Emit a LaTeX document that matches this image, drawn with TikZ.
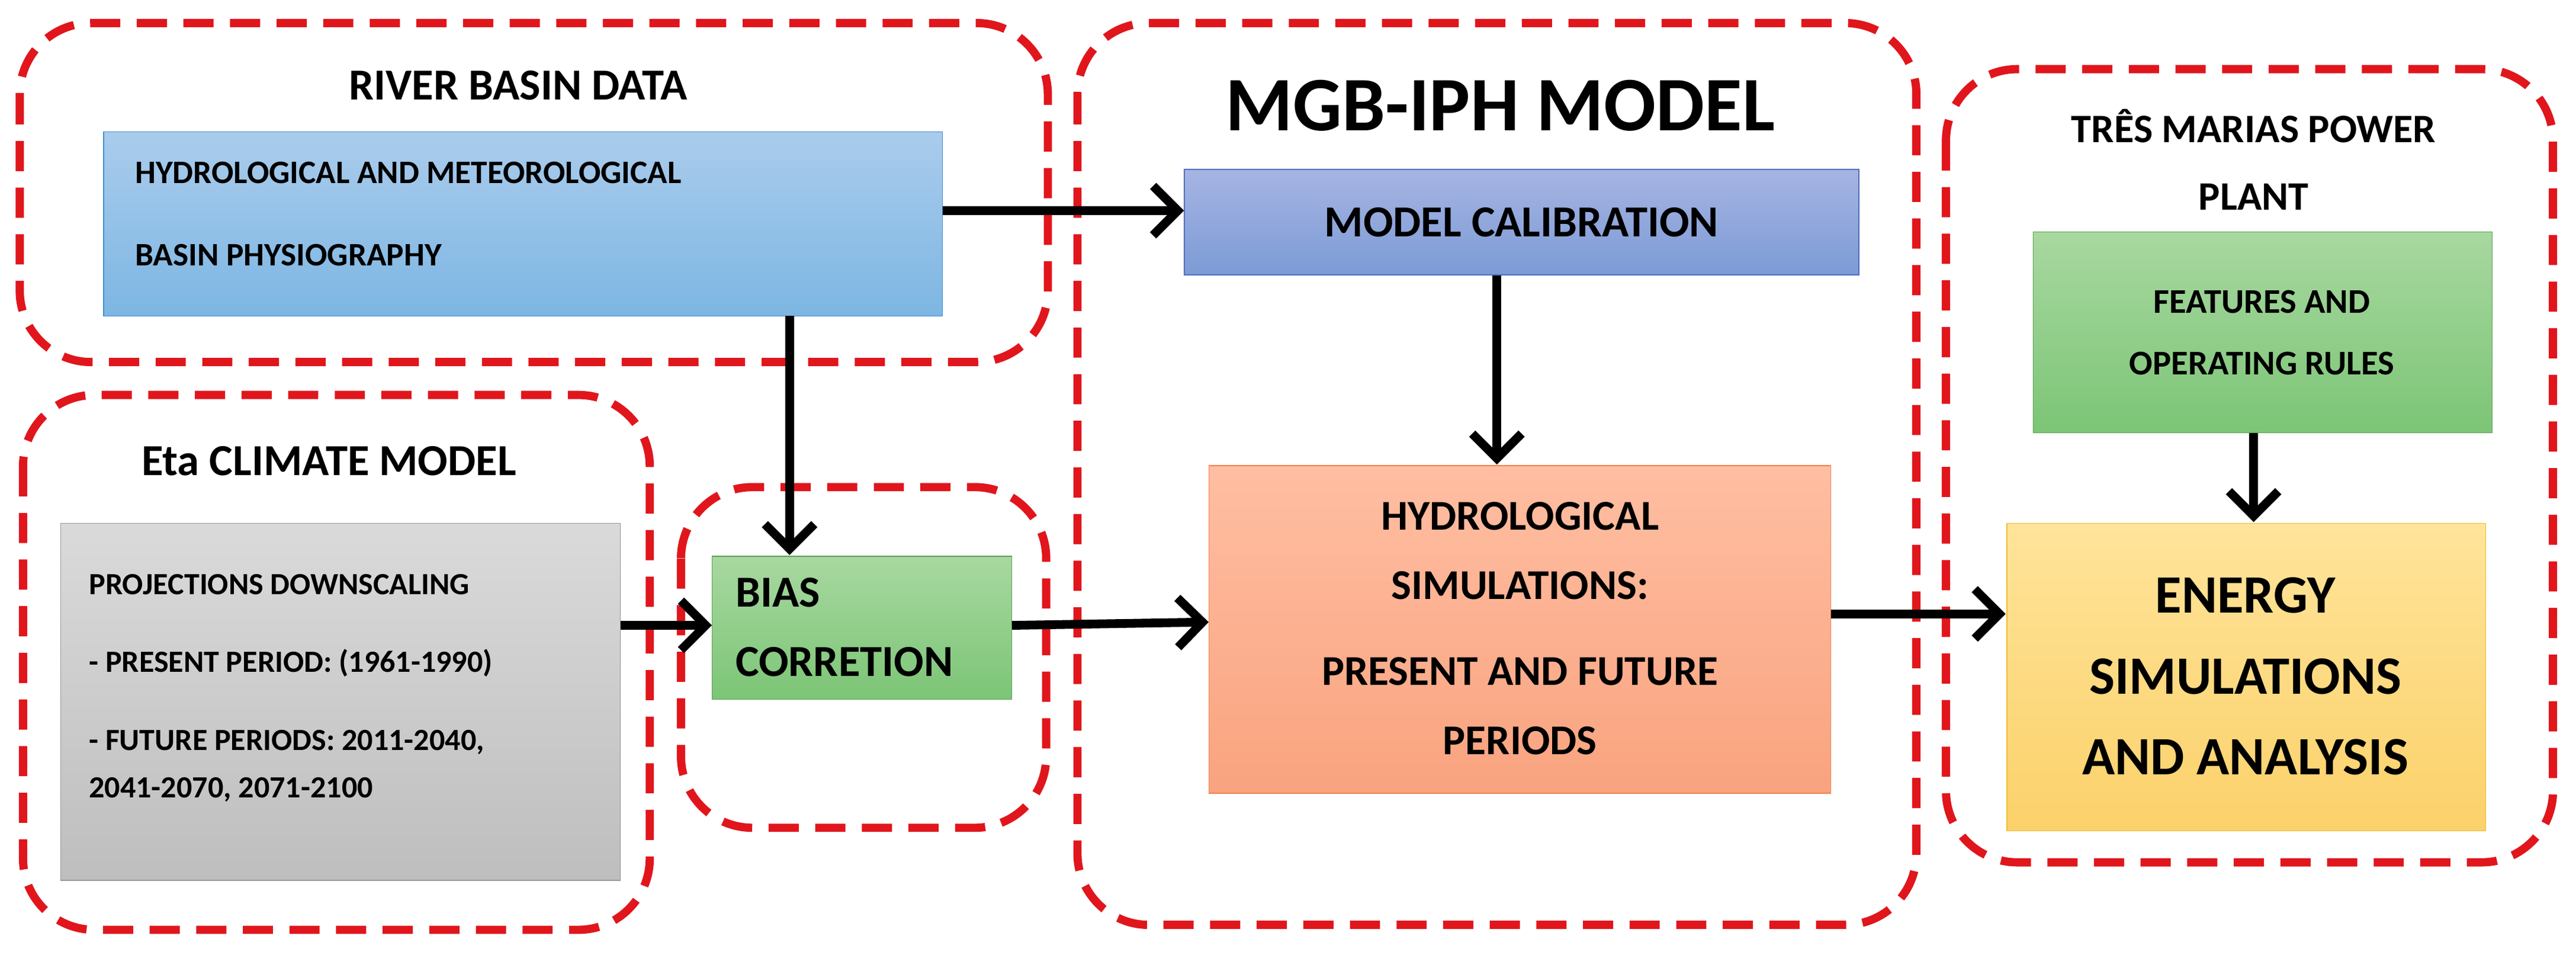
\documentclass[tikz,border=0pt]{standalone}
\usepackage{fontspec}
\setmainfont{Carlito}
\usetikzlibrary{arrows.meta}
\definecolor{dred}{HTML}{E0161C}
\definecolor{bt}{RGB}{170,204,236}\definecolor{bb}{RGB}{125,182,227}\definecolor{bd}{RGB}{60,140,210}
\definecolor{ct}{RGB}{166,180,226}\definecolor{cb}{RGB}{124,155,214}\definecolor{cd}{RGB}{80,110,190}
\definecolor{ot}{RGB}{255,190,162}\definecolor{ob}{RGB}{249,163,127}\definecolor{od}{RGB}{240,130,80}
\definecolor{gt}{RGB}{218,218,218}\definecolor{gb}{RGB}{190,190,190}\definecolor{gd}{RGB}{150,150,150}
\definecolor{nt}{RGB}{168,216,160}\definecolor{nb}{RGB}{124,197,118}\definecolor{nd}{RGB}{90,160,80}
\definecolor{yt}{RGB}{255,228,154}\definecolor{yb}{RGB}{251,209,106}\definecolor{yd}{RGB}{240,190,50}
\begin{document}
\begin{tikzpicture}[x=0.03cm,y=-0.03cm,
 grp/.style={draw=dred,line width=0.15cm,dash pattern=on 0.55cm off 0.3cm,rounded corners=1.3cm},
 arr/.style={line width=0.16cm,-{Straight Barb[length=0.45cm,width=0.9cm,line width=0.16cm]}},
 lbl/.style={font=\bfseries\fontsize{17}{20}\selectfont,anchor=west},
 ttl/.style={font=\bfseries\fontsize{23}{28}\selectfont,align=center}]
\useasboundingbox (0,0) rectangle (1566,580);
\fill[white] (0,0) rectangle (1566,580);
% groups
\draw[grp] (12,14) rectangle (637,220);
\draw[grp] (14,240) rectangle (395,565);
\draw[grp] (414,296) rectangle (636,503);
\draw[grp] (655,14) rectangle (1165,562);
\draw[grp] (1183,42) rectangle (1552,524);
% titles
\node[ttl] (t1) at (315,52) {RIVER BASIN DATA};
\node[ttl] (t2) at (200,280) {Eta CLIMATE MODEL};
\node[font=\bfseries\fontsize{40}{46}\selectfont] (t3) at (912,64) {MGB-IPH MODEL};
\node[font=\bfseries\fontsize{21}{35}\selectfont,align=center] (t4) at (1370,97) {TRÊS MARIAS POWER\\PLANT};
% boxes
\shade[top color=bt, bottom color=bb] (63,80) rectangle (573,192);
\draw[bd] (63,80) rectangle (573,192);
\node (bas) at (318,136) [minimum width=15.3cm,minimum height=3.36cm] {};
\node[lbl] (b1) at (78,105) {HYDROLOGICAL AND METEOROLOGICAL};
\node[lbl] (b2) at (78,155) {BASIN PHYSIOGRAPHY};

\shade[top color=ct, bottom color=cb] (720,103) rectangle (1130,167);
\draw[cd] (720,103) rectangle (1130,167);
\node[ttl] (cal) at (925,135) [minimum width=12.3cm,minimum height=1.92cm] {MODEL CALIBRATION};

\shade[top color=ot, bottom color=ob] (735,283) rectangle (1113,482);
\draw[od] (735,283) rectangle (1113,482);
\node[ttl,font=\bfseries\fontsize{22}{36}\selectfont] (sim) at (924,382) [minimum width=11.34cm,minimum height=5.97cm] {HYDROLOGICAL\\SIMULATIONS:\\[0.3cm]PRESENT AND FUTURE\\PERIODS};

\shade[top color=gt, bottom color=gb] (37,318) rectangle (377,535);
\draw[gd] (37,318) rectangle (377,535);
\node (gr) at (207,426) [minimum width=10.2cm,minimum height=6.5cm] {};
\node[lbl,font=\bfseries\fontsize{16}{20}\selectfont] at (50,355) {PROJECTIONS DOWNSCALING};
\node[lbl,font=\bfseries\fontsize{16}{20}\selectfont] at (50,403) {- PRESENT PERIOD: (1961-1990)};
\node[lbl,font=\bfseries\fontsize{16}{20}\selectfont] at (50,451) {- FUTURE PERIODS: 2011-2040,};
\node[lbl,font=\bfseries\fontsize{16}{20}\selectfont] at (50,480) {2041-2070, 2071-2100};

\shade[top color=nt, bottom color=nb] (433,338) rectangle (615,425);
\draw[nd] (433,338) rectangle (615,425);
\node (bias) at (524,381) [minimum width=5.46cm,minimum height=2.61cm] {};
\node[ttl,align=left,anchor=west,font=\bfseries\fontsize{23}{36}\selectfont] at (443,381) {BIAS\\CORRETION};

\shade[top color=nt, bottom color=nb] (1236,141) rectangle (1515,263);
\draw[nd] (1236,141) rectangle (1515,263);
\node[ttl,font=\bfseries\fontsize{18}{32}\selectfont] (fea) at (1375,202) [minimum width=8.37cm,minimum height=3.66cm] {FEATURES AND\\OPERATING RULES};

\shade[top color=yt, bottom color=yb] (1220,318) rectangle (1511,505);
\draw[yd] (1220,318) rectangle (1511,505);
\node[ttl,font=\bfseries\fontsize{28}{42}\selectfont] (en) at (1365,411) [minimum width=8.73cm,minimum height=5.61cm] {ENERGY\\SIMULATIONS\\AND ANALYSIS};
% arrows
\coordinate (a1) at (573,128);
\draw[arr] (a1) -- (cal.west|-a1);
\coordinate (a2) at (480,192);
\draw[arr] (a2) -- (bias.north-|a2);
\draw[arr] (cal.south-|910,0) -- (sim.north-|910,0);
\draw[arr] (gr.east|-0,380) -- (bias.west|-0,380);
\draw[arr] (bias.east|-0,380) -- (sim.west|-0,378);
\draw[arr] (sim.east|-0,373) -- (en.west|-0,373);
\draw[arr] (fea.south-|1370,0) -- (en.north-|1370,0);
\end{tikzpicture}
\end{document}
